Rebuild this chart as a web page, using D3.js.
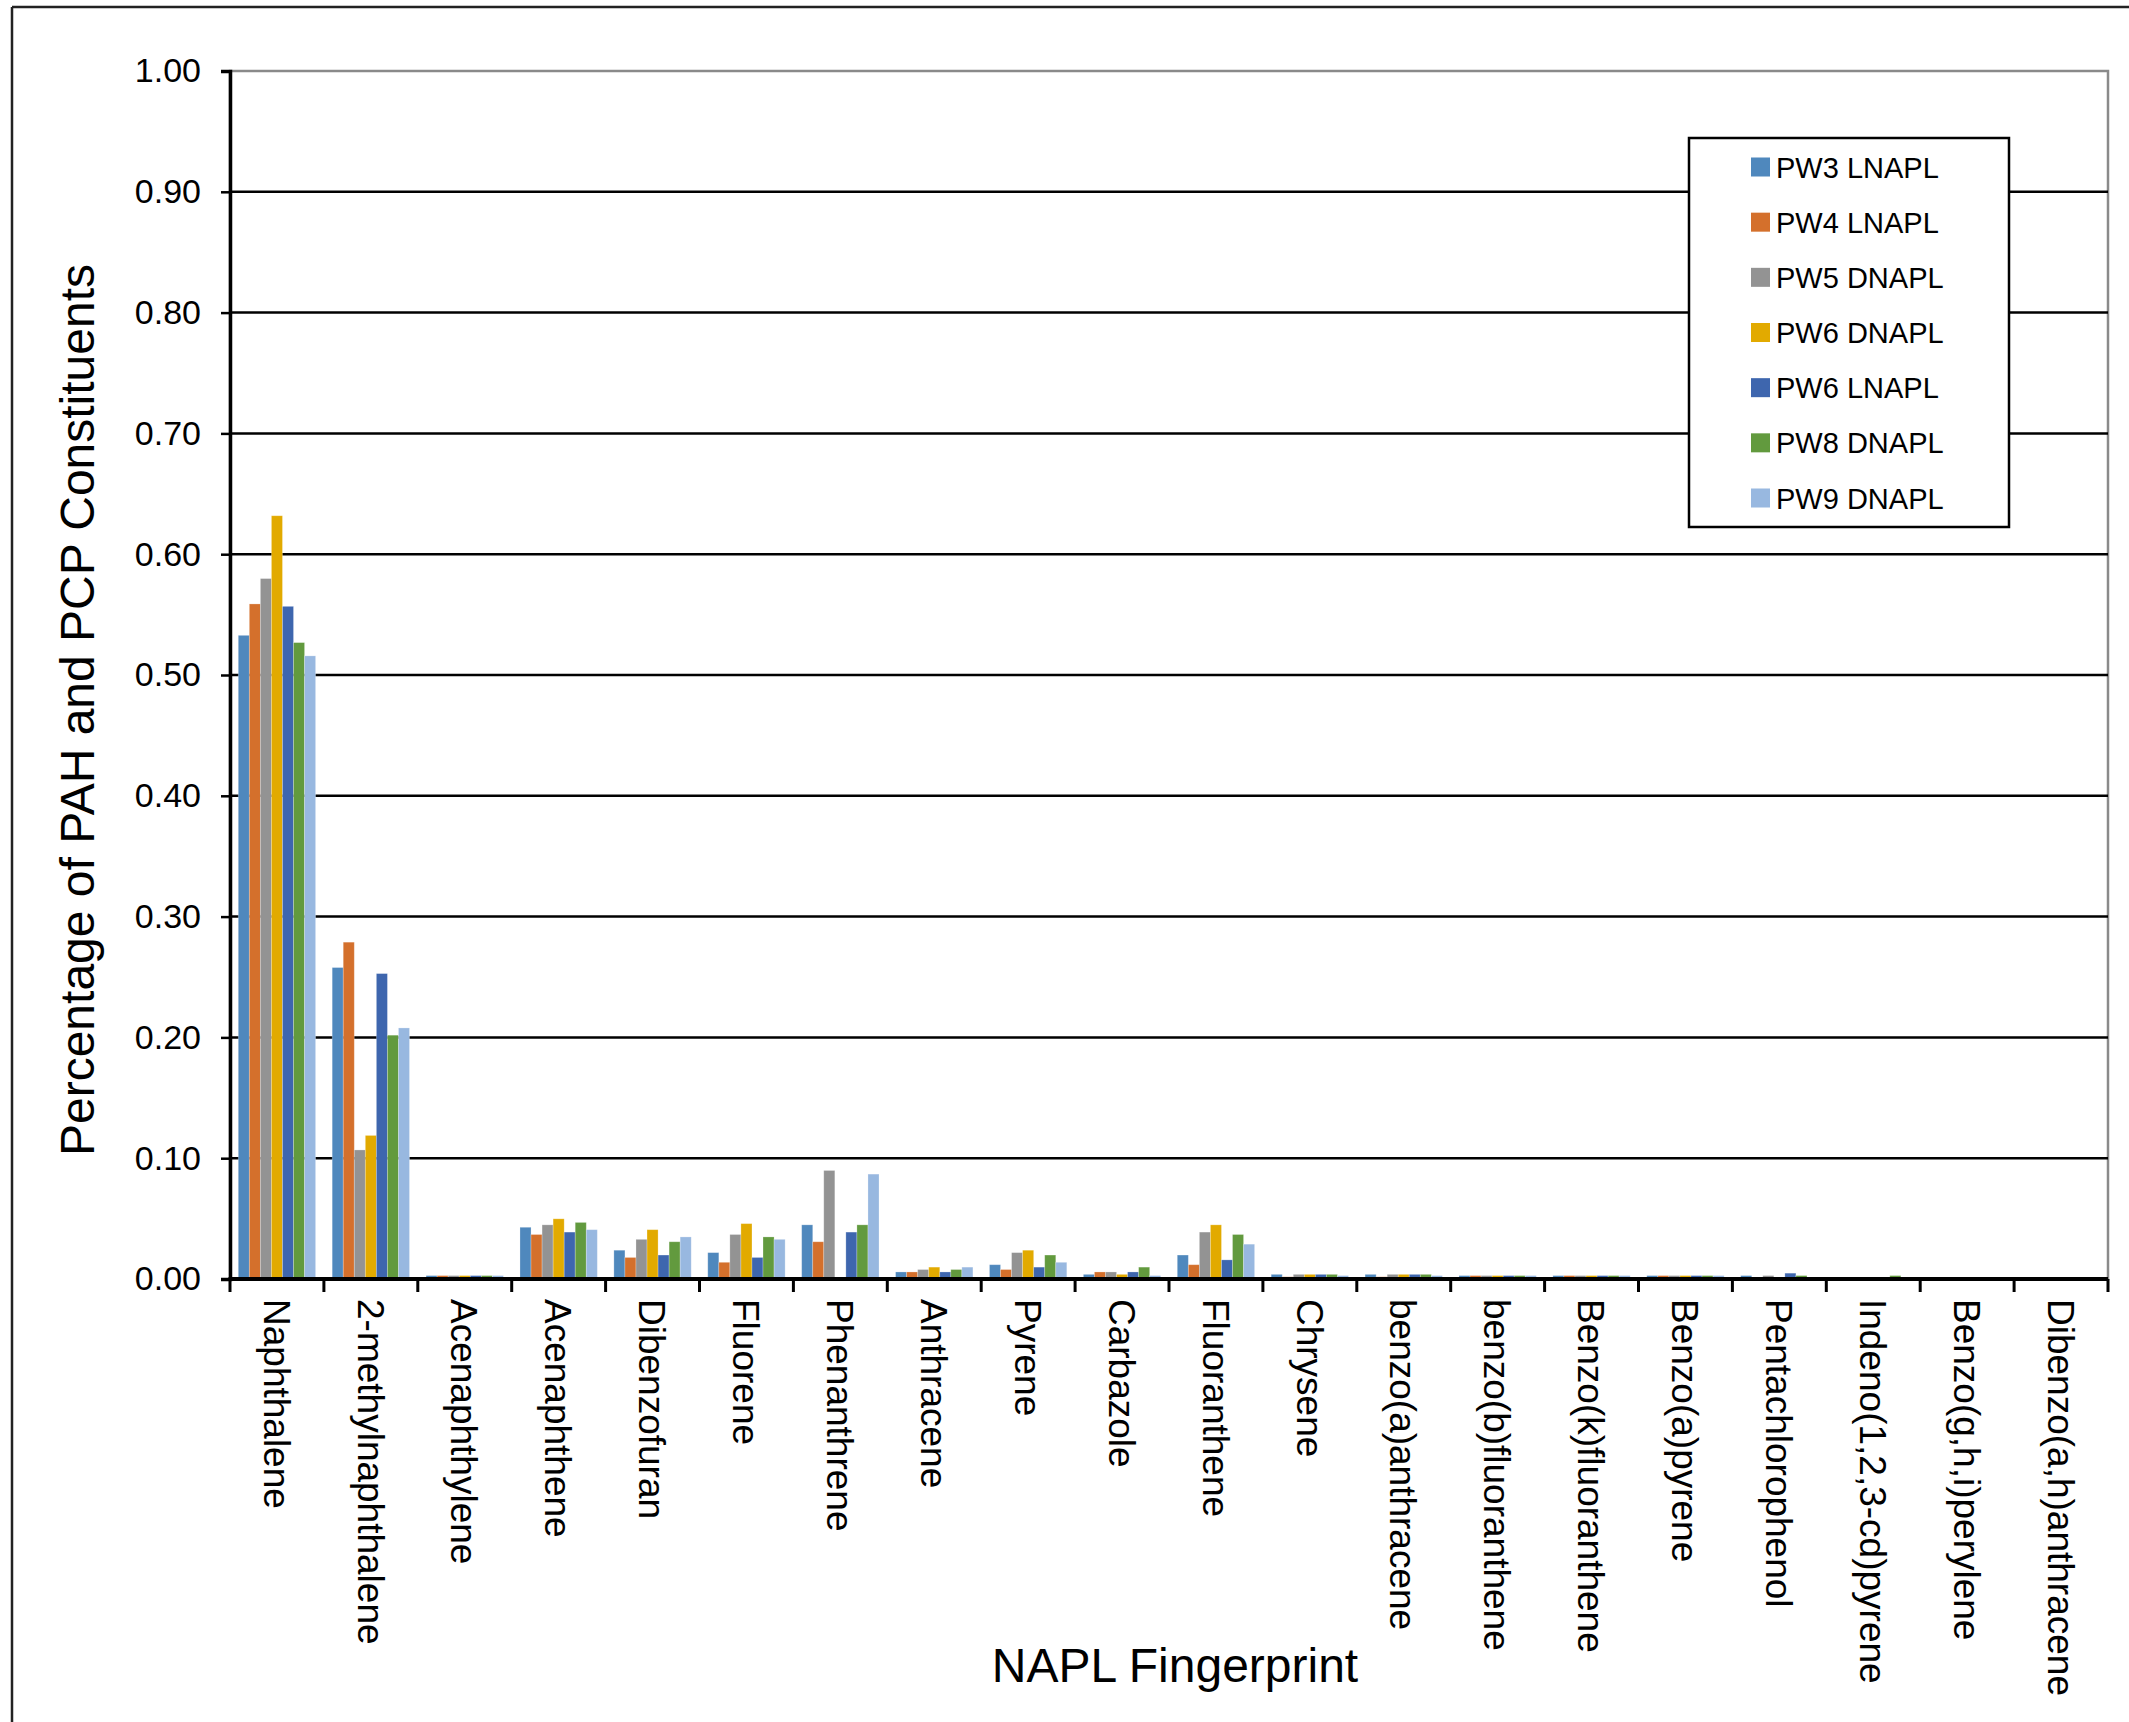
<!DOCTYPE html>
<html>
<head>
<meta charset="utf-8">
<script src="https://cdn.jsdelivr.net/npm/d3@7"></script>
<style>
  html, body { margin: 0; padding: 0; background: #fff; }
  svg { display: block; font-family: "Liberation Sans", Arial, sans-serif; }
</style>
</head>
<body>
<svg id="chart" width="2129" height="1722"></svg>
<script>
// PAH / PCP constituent fractions for each NAPL sample
const categories = [
  "Naphthalene", "2-methylnaphthalene", "Acenaphthylene", "Acenaphthene",
  "Dibenzofuran", "Fluorene", "Phenanthrene", "Anthracene", "Pyrene",
  "Carbazole", "Fluoranthene", "Chrysene", "benzo(a)anthracene",
  "benzo(b)fluoranthene", "Benzo(k)fluoranthene", "Benzo(a)pyrene",
  "Pentachlorophenol", "Indeno(1,2,3-cd)pyrene", "Benzo(g,h,i)perylene",
  "Dibenzo(a,h)anthracene"
];

const seriesNames = ["PW3 LNAPL", "PW4 LNAPL", "PW5 DNAPL", "PW6 DNAPL", "PW6 LNAPL", "PW8 DNAPL", "PW9 DNAPL"];

const pw3L = [0.532, 0.257, 0.002, 0.042, 0.023, 0.021, 0.044, 0.005, 0.011, 0.003, 0.019, 0.003, 0.003, 0.002, 0.002, 0.002, 0.002, 0, 0, 0];
const pw4L = [0.558, 0.278, 0.002, 0.036, 0.017, 0.013, 0.030, 0.005, 0.007, 0.005, 0.011, 0.001, 0.001, 0.002, 0.002, 0.002, 0, 0, 0, 0];
const pw5D = [0.579, 0.106, 0.002, 0.044, 0.032, 0.036, 0.089, 0.007, 0.021, 0.005, 0.038, 0.003, 0.003, 0.002, 0.002, 0.002, 0.002, 0, 0, 0];
const pw6D = [0.631, 0.118, 0.002, 0.049, 0.040, 0.045, 0, 0.009, 0.023, 0.003, 0.044, 0.003, 0.003, 0.002, 0.002, 0.002, 0, 0, 0, 0];
const pw6L = [0.556, 0.252, 0.002, 0.038, 0.019, 0.017, 0.038, 0.005, 0.009, 0.005, 0.015, 0.003, 0.003, 0.002, 0.002, 0.002, 0.004, 0, 0, 0];
const pw8D = [0.526, 0.201, 0.002, 0.046, 0.030, 0.034, 0.044, 0.007, 0.019, 0.009, 0.036, 0.003, 0.003, 0.002, 0.002, 0.002, 0.002, 0.002, 0, 0];
const pw9D = [0.515, 0.207, 0.002, 0.040, 0.034, 0.032, 0.086, 0.009, 0.013, 0.002, 0.028, 0.002, 0.002, 0.002, 0.002, 0.002, 0, 0, 0, 0];

const seriesValues = [pw3L, pw4L, pw5D, pw6D, pw6L, pw8D, pw9D];
const seriesColors = ["#4f88bd", "#d4702c", "#939393", "#e2aa00", "#3e66ae", "#629a3e", "#98b8e0"];

const yTicks = [0, 0.1, 0.2, 0.3, 0.4, 0.5, 0.6, 0.7, 0.8, 0.9, 1.0];

const yTitle = "Percentage of PAH and PCP Constituents";
const xTitle = "NAPL Fingerprint";

// ---- layout ----
const plot = { left: 230, right: 2108, top: 71, bottom: 1279 };

const svg = d3.select("#chart");

const x0 = d3.scaleBand().domain(categories).range([plot.left, plot.right]).paddingInner(0).paddingOuter(0);
const x1 = d3.scaleBand().domain(seriesNames).range([0, x0.bandwidth()]).paddingInner(0).paddingOuter(0.75);
const y = d3.scaleLinear().domain([0, 1]).range([plot.bottom, plot.top]);

// outer frame (top and left edges visible)
svg.append("line").attr("x1", 12).attr("y1", 7).attr("x2", 2129).attr("y2", 7)
  .attr("stroke", "#222").attr("stroke-width", 2.5);
svg.append("line").attr("x1", 12).attr("y1", 7).attr("x2", 12).attr("y2", 1722)
  .attr("stroke", "#222").attr("stroke-width", 2.5);

// plot area border
svg.append("rect")
  .attr("x", plot.left).attr("y", plot.top)
  .attr("width", plot.right - plot.left).attr("height", plot.bottom - plot.top)
  .attr("fill", "none").attr("stroke", "#8a8a8a").attr("stroke-width", 2.5);

// horizontal gridlines
svg.append("g").selectAll("line")
  .data(yTicks.filter(t => t > 0 && t < 1))
  .join("line")
  .attr("x1", plot.left).attr("x2", plot.right)
  .attr("y1", d => y(d)).attr("y2", d => y(d))
  .attr("stroke", "#000").attr("stroke-width", 2.5);

// bars
const groups = svg.append("g").selectAll("g")
  .data(categories)
  .join("g")
  .attr("transform", d => `translate(${x0(d)},0)`);

groups.selectAll("rect")
  .data((c, i) => seriesNames.map((s, k) => ({ s, k, v: seriesValues[k][i] })))
  .join("rect")
  .filter(d => d.v > 0)
  .attr("x", d => x1(d.s))
  .attr("y", d => y(d.v) - 1)
  .attr("width", x1.bandwidth())
  .attr("height", d => y(0) - y(d.v) + 1)
  .attr("fill", d => seriesColors[d.k])
  .attr("stroke", "#ffffff")
  .attr("stroke-opacity", 0.3)
  .attr("stroke-width", 0.8);

// y axis
const yAxis = d3.axisLeft(y).tickValues(yTicks).tickFormat(d3.format(".2f")).tickSize(9).tickPadding(20);
const gy = svg.append("g").attr("transform", `translate(${plot.left},0)`).call(yAxis);
gy.select(".domain").attr("stroke", "#000").attr("stroke-width", 3.5);
gy.selectAll(".tick line").attr("stroke", "#000").attr("stroke-width", 2.5);
gy.selectAll(".tick text").attr("font-size", 34).attr("fill", "#000")
  .attr("font-family", "Liberation Sans, Arial, sans-serif");

// x axis: ticks at category boundaries
const boundaries = categories.map(c => x0(c)).concat([plot.right]);
svg.append("g").selectAll("line")
  .data(boundaries)
  .join("line")
  .attr("x1", d => d).attr("x2", d => d)
  .attr("y1", plot.bottom).attr("y2", plot.bottom + 13)
  .attr("stroke", "#000").attr("stroke-width", 3);
svg.append("line")
  .attr("x1", plot.left - 1.5).attr("x2", plot.right)
  .attr("y1", plot.bottom).attr("y2", plot.bottom)
  .attr("stroke", "#000").attr("stroke-width", 4);

// x category labels, rotated to read downward
svg.append("g").selectAll("text")
  .data(categories)
  .join("text")
  .attr("transform", d => `translate(${x0(d) + x0.bandwidth() / 2},${plot.bottom + 20}) rotate(90)`)
  .attr("dy", "0.36em")
  .attr("text-anchor", "start")
  .attr("font-size", 37)
  .attr("fill", "#000")
  .text(d => d);

// axis titles
svg.append("text")
  .attr("transform", `translate(94,710) rotate(-90)`)
  .attr("text-anchor", "middle")
  .attr("font-size", 48)
  .attr("fill", "#000")
  .text(yTitle);

svg.append("text")
  .attr("x", 1175).attr("y", 1682)
  .attr("text-anchor", "middle")
  .attr("font-size", 48)
  .attr("fill", "#000")
  .text(xTitle);

// legend
const legend = svg.append("g");
legend.append("rect")
  .attr("x", 1689).attr("y", 138).attr("width", 320).attr("height", 389)
  .attr("fill", "#fff").attr("stroke", "#000").attr("stroke-width", 2.5);

const legendY = d3.scalePoint().domain(seriesNames).range([167, 498]);
const items = legend.selectAll("g.item")
  .data(seriesNames)
  .join("g").attr("class", "item")
  .attr("transform", d => `translate(0,${legendY(d)})`);
items.append("rect")
  .attr("x", 1751).attr("y", -9.5).attr("width", 19).attr("height", 19)
  .attr("fill", (d, i) => seriesColors[i]);
items.append("text")
  .attr("x", 1776).attr("y", 10.5)
  .attr("font-size", 29)
  .attr("fill", "#000")
  .text(d => d);
</script>
</body>
</html>
